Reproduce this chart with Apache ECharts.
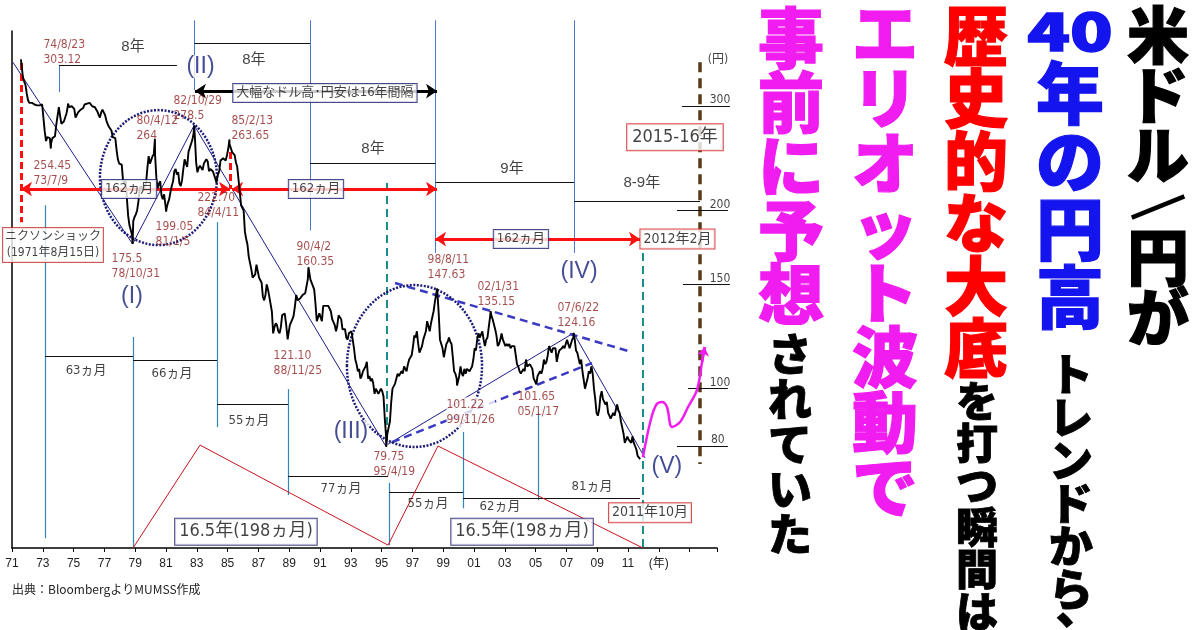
<!DOCTYPE html>
<html><head><meta charset="utf-8">
<script src="https://cdn.jsdelivr.net/npm/echarts@6/dist/echarts.min.js"></script>
<style>html,body{margin:0;padding:0;background:#fff}#c{width:1200px;height:630px}</style>
</head><body><div id="c"></div>
<script>
// ================= DATA =================
const X0 = 1971;
// USD/JPY monthly levels, Sep 1971 - Dec 1979
const jpy1970s = [
 336,330,326,315,
 307,304,303,304,304,302,301,301,301,301,302,302,
 302,272,262,266,265,265,260,265,265,267,279,280,
 299,289,280,279,283,284,292,300,299,300,300,300,
 297,287,286,293,292,296,297,298,302,302,303,305,
 304,302,300,299,299,298,294,290,287,293,296,293,
 290,284,280,277,277,273,266,267,265,253,244,240,
 241,239,225,222,225,210,196,189,189,182,192,195,
 197,200,207,218,220,218,216,220,223,236,247,240
];
// Jan 1980 - Dec 1989
const jpy1980s = [
 239,247,249,248,227,218,222,224,212,209,213,205,
 202,206,209,215,220,224,233,235,230,232,222,220,
 225,235,244,240,237,251,255,259,263,270,266,241,
 232,236,238,237,234,240,240,244,242,233,235,234,
 233,233,226,225,230,233,243,242,245,246,243,248,
 254,259,257,251,251,248,241,237,236,215,204,203,
 200,184,179,175,167,167,159,154,154,156,162,162,
 154,153,151,143,141,144,150,147,143,143,135,124,
 127,129,128,125,124,127,133,133,134,129,123,124,
 128,128,131,133,138,144,141,142,142,142,144,143
];
// Jan 1990 - Dec 1999
const jpy1990s = [
 145,146,153,158,153,154,149,147,139,130,129,134,
 134,130,138,137,138,139,138,137,135,131,130,128,
 125,128,133,133,131,126,126,126,122,121,124,124,
 125,121,117,112,110,107,108,104,105,107,108,109,
 111,104,105,103,104,102,98,100,99,98,98,100,
 99,97,89,83,84,84,88,95,100,101,102,102,
 106,105,106,107,106,109,109,107,110,112,112,114,
 118,123,122,125,119,115,115,118,121,121,125,130,
 129,125,129,132,135,140,140,145,134,121,121,117,
 113,116,119,120,122,120,119,113,107,106,104,102
];
// Jan 2000 - Oct 2011
const jpy2000s = [
 105,109,106,105,108,106,108,108,107,108,109,112,
 117,116,121,124,122,122,125,121,118,121,122,127,
 132,133,131,130,126,123,118,119,121,124,121,121,
 118,119,118,119,117,118,118,118,114,110,109,107,
 106,106,108,107,112,109,109,110,110,108,104,103,
 103,105,105,107,106,108,112,110,111,114,118,118,
 115,117,117,117,111,114,116,116,117,118,117,117,
 121,121,117,119,121,122,121,116,115,115,110,112,
 107,107,100,102,104,107,106,109,106,100,96,91,
 90,92,97,99,96,96,94,95,91,90,89,90,
 91,90,90,94,92,91,88,86,84,81,82,83,
 82,82,81,83,81,80,79,77,77,76
];
// labelled turning points [year, yen]
const turningPoints = [
 [1971.58,360],[1973.52,254.45],[1974.64,303.12],[1978.83,175.5],[1980.28,264],
 [1981.01,199.05],[1982.83,278.5],[1984.28,222.7],[1985.12,263.65],[1988.9,121.1],
 [1990.25,160.35],[1995.3,79.75],[1998.61,147.63],[1999.9,101.22],[2002.08,135.15],
 [2005.05,101.65],[2007.47,124.16]
];
// turning point labels [year, yen, text]
const pointLabels = [
 [1973.01,370,'74/8/23\n303.12'],[1972.36,230.8,'254.45\n73/7/9'],[1977.43,161.1,'175.5\n78/10/31'],
 [1979.05,275.5,'80/4/12\n264'],[1981.45,297.2,'82/10/29\n278.5'],[1980.29,182.1,'199.05\n81/1/5'],
 [1983.01,203.9,'222.70\n84/4/11'],[1985.22,275.5,'85/2/13\n263.65'],[1989.44,168.8,'90/4/2\n160.35'],
 [1987.95,110.3,'121.10\n88/11/25'],[1997.95,160.2,'98/8/11\n147.63'],[2001.19,144.2,'02/1/31\n135.15'],
 [2006.39,132.9,'07/6/22\n124.16'],[2003.79,94.0,'101.65\n05/1/17'],[1994.44,74.4,'79.75\n95/4/19']
];
const pointLabelsBoxed = [[1999.18,91.1,'101.22\n99/11/26']];
const waveLabels = [[1978.79,142.8,'(I)'],[1983.24,350,'(II)'],[1993.01,84.5,'(III)'],[2007.82,157.4,'(IV)'],[2013.53,73.7,'(V)']];
// cycle dividers [year, yenTop, yenBottom]
const topDividers = [[1982.85,419,319.5],[1990.35,419,185],[1998.5,419,169.5],[2007.5,419,169.5],[1974.05,352,317]];
const bottomDividers = [[1973.14,204,55.9],[1978.86,122.3,53.8],[1984.31,191.1,86.1],[1988.92,99.8,66.1],[1995.48,69.3,54.4],[2000.29,84.5,62.8],[2005.16,90.9,64.8]];
// spans [yearFrom, yearTo, yen]
const yearSpans = [[1974.05,1981.71,352],[1982.85,1990.35,383.6],[1990.35,1998.5,240.5],[1998.5,2007.5,223.4],[2007.5,2015.68,207.5]];
const yearSpanLabels = [[1978.86,377.6,'8年'],[1986.71,359,'8年'],[1994.44,254,'8年'],[2003.47,235,'9年'],[2011.9,222.5,'8-9年']];
const monthSpans = [[1973.14,1978.86,113.5],[1978.86,1984.31,111.8],[1984.31,1988.92,94.2],[1988.92,1995.42,71.2],[1995.48,2000.29,66.9],[2000.29,2011.78,65.4]];
const monthSpanLabels = [[1975.81,107.1,'63ヵ月'],[1981.39,105.9,'66ヵ月'],[1986.39,88.2,'55ヵ月'],[1992.36,67.7,'77ヵ月'],[1998.01,63.9,'55ヵ月'],[2002.69,63.1,'62ヵ月'],[2008.66,68.2,'81ヵ月']];
// 16.5-year cycle zigzag [year, yen]
const cycleZigzag = [[1978.86,53.8],[1983.21,80.3],[1995.42,54.4],[1998.66,80.0],[2011.97,53.8]];
// trend lines [[year,yen],[year,yen]]
const trendLines = [[[1971.06,356],[1978.83,175.5]],[[1978.83,175.5],[1982.83,278.5]],[[1982.83,278.5],[1995.3,79.75]],[[1995.4,80.5],[2007.47,124.16]],[[2007.47,124.16],[2012.1,76.4]]];
const channelLines = [[[1995.87,150.8],[2011.06,115.7]],[[1995.68,81.2],[2008.66,110.5]]];
// 162-month arrows [yearFrom, yearTo, yen]
const cycleArrows = [[1971.58,1985.16,217.4],[1985.29,1998.6,217.4],[1998.47,2011.78,178.9]];
const redDashed = [[1971.58,355,191.1],[1985.16,251,217.4]];
const tealDashed = [[1995.35,222.5,80.9],[2011.97,169.5,53.8]];
const sixteenYearArrow = [[1982.88,1998.6,318.2]];
const forecastLine = [[2015.68,356.1,74.6]];
// forecast path [year, yen]
const forecastPath = [[2011.97,76.6],[2012.43,87.5],[2012.82,93.8],[2013.21,94.9],[2013.53,93.1],[2013.86,86.1],[2014.38,87.8],[2014.9,93.1],[2015.48,99.5],[2015.81,110.9],[2015.98,117.6]];
// right-hand yen scale [yen, yearFrom, yearTo]
const yenScale = [[300,2014.51,2017.62],[200,2014.18,2017.49],[150,2014.57,2017.62],[100,2014.9,2017.49],[80,2014.18,2017.49]];
const yenScaleLabels = [[2016.27,300,'300'],[2016.27,200,'200'],[2016.27,150,'150'],[2016.27,100,'100'],[2016.35,80,'80'],[2016.15,350.7,'(円)']];
// boxed notes [year, yen, text]
const navyBoxes = [[1978.6,217.4,'162ヵ月'],[1990.74,217.4,'162ヵ月'],[2004.05,178.9,'162ヵ月'],[1991.32,315.8,'大幅なドル高･円安は16年間隔']];
const redBoxes = [[2014.21,178.9,'2012年2月'],[2012.43,61.7,'2011年10月']];
const nixonBox = [[1973.66,174.8,'ニクソンショック\n(1971年8月15日)']];
const bigRedBoxes = [[2014.05,266,'2015-16年']];
const bigNavyBoxes = [[1986.19,57.3,'16.5年(198ヵ月)'],[2004.12,57.3,'16.5年(198ヵ月)']];
// circled zones [yearLeft, yearRight, yenTop, yenBottom]
const circles = [[1976.71,1984.31,295.5,174.8],[1992.75,2001.52,149.6,79.7]];

// ================= BUILD =================
const P = (yr, v) => [yr - X0, v];
const monthly = (vals, y0, m0) => vals.map((v, i) => [y0 + (m0 - 1 + i + 0.5) / 12, v]);
const priceData = [].concat(monthly(jpy1970s,1971,9), monthly(jpy1980s,1980,1), monthly(jpy1990s,1990,1), monthly(jpy2000s,2000,1), turningPoints)
  .sort((a, b) => a[0] - b[0]).map(d => P(d[0], d[1]));

const vSeg = arr => arr.map(([x, a, b]) => ({coords: [P(x, a), P(x, b)]}));
const hSeg = arr => arr.map(([x1, x2, v]) => ({coords: [P(x1, v), P(x2, v)]}));
const pairSeg = arr => arr.map(([a, b]) => ({coords: [P(a[0], a[1]), P(b[0], b[1])]}));
const linesSeries = (data, style, extra) => Object.assign({
  type: 'lines', coordinateSystem: 'cartesian2d', clip: false, silent: true, polyline: false,
  symbol: ['none', 'none'], lineStyle: Object.assign({opacity: 1, curveness: 0}, style), data: data, z: 2,
  animation: false
}, extra || {});

const NARROW = "'Liberation Sans Narrow','DejaVu Sans Condensed','Liberation Sans','Noto Sans CJK JP',sans-serif";
const SANS = "'Liberation Sans','Noto Sans CJK JP',sans-serif";
const textSeries = (items, label, z) => ({
  type: 'scatter', clip: false, silent: true, symbolSize: 1, animation: false,
  itemStyle: {color: 'rgba(0,0,0,0)'}, emphasis: {disabled: true}, z: z || 10,
  data: items.map(([x, v, t]) => ({name: t, value: P(x, v)})),
  label: Object.assign({show: true, formatter: '{b}'}, label)
});

const zig = cycleZigzag.slice(1).map((p, i) => [cycleZigzag[i], p]);
const RED_TXT = '#8e1f1f';

const series = [
  linesSeries(vSeg(topDividers), {color: '#4a78d0', width: 1}),
  linesSeries(vSeg(bottomDividers), {color: '#2f86b8', width: 1.2}),
  linesSeries(hSeg(yearSpans), {color: '#111', width: 1}),
  linesSeries(hSeg(monthSpans), {color: '#111', width: 1}),
  linesSeries(pairSeg(zig), {color: '#c8141e', width: 1}),
  linesSeries(pairSeg(trendLines), {color: '#1c1c8c', width: 1}),
  linesSeries(pairSeg(channelLines), {color: '#3a3ac4', width: 2.5, type: [8, 5]}),
  linesSeries(vSeg(redDashed), {color: '#ff1010', width: 3, type: [7, 4]}),
  linesSeries(vSeg(tealDashed), {color: '#1a8c8c', width: 2, type: [8, 5]}),
  linesSeries(vSeg(forecastLine), {color: '#5a3a18', width: 3.5, type: [10, 6]}),
  linesSeries(yenScale.map(([v, a, b]) => ({coords: [P(a, v), P(b, v)]})), {color: '#111', width: 1}),
  linesSeries(hSeg(cycleArrows), {color: '#ff1010', width: 3}, {symbol: ['arrow', 'arrow'], symbolSize: 11, z: 4}),
  linesSeries(hSeg(sixteenYearArrow), {color: '#000', width: 3}, {symbol: ['arrow', 'arrow'], symbolSize: 11, z: 4}),
  {
    type: 'line', data: priceData, showSymbol: false, clip: false, silent: true, animation: false,
    lineStyle: {color: '#000', width: 1.9}, z: 5
  },
  {
    type: 'line', data: forecastPath.map(d => P(d[0], d[1])), smooth: 0.35, showSymbol: false, clip: false,
    silent: true, animation: false, lineStyle: {color: '#f01cf0', width: 2.5}, z: 5
  },
  linesSeries(pairSeg([[forecastPath[forecastPath.length - 2], forecastPath[forecastPath.length - 1]]]),
    {color: '#f01cf0', width: 2.5}, {symbol: ['none', 'arrow'], symbolSize: 9, z: 5}),
  textSeries(pointLabels, {position: 'right', distance: 0, color: RED_TXT, fontSize: 12, lineHeight: 15, fontFamily: NARROW, align: 'left'}),
  textSeries(pointLabelsBoxed, {position: 'right', distance: 0, color: RED_TXT, fontSize: 12, lineHeight: 15, fontFamily: NARROW, align: 'left', backgroundColor: '#fff'}, 9),
  textSeries(waveLabels, {position: 'inside', color: '#16217a', fontSize: 23, fontFamily: SANS, backgroundColor: '#fff', padding: [0, 1]}),
  textSeries(yearSpanLabels, {position: 'inside', color: '#111', fontSize: 15, fontFamily: SANS}),
  textSeries(monthSpanLabels, {position: 'inside', color: '#111', fontSize: 13, fontFamily: NARROW}),
  textSeries(yenScaleLabels, {position: 'right', distance: 0, color: '#111', fontSize: 12, fontFamily: NARROW, offset: [0, -6]}),
  textSeries(navyBoxes, {position: 'inside', color: '#111', fontSize: 13, fontFamily: NARROW, backgroundColor: '#fff', borderColor: '#1c1c6c', borderWidth: 1, padding: [3, 3, 2, 3]}, 12),
  textSeries(redBoxes, {position: 'inside', color: '#111', fontSize: 14, fontFamily: NARROW, backgroundColor: '#fff', borderColor: '#d02020', borderWidth: 1, padding: [3, 3, 2, 3]}, 12),
  textSeries(nixonBox, {position: 'inside', color: '#111', fontSize: 12, lineHeight: 16, fontFamily: NARROW, backgroundColor: '#fff', borderColor: '#c03030', borderWidth: 1, padding: [1, 2]}, 12),
  textSeries(bigRedBoxes, {position: 'inside', color: '#111', fontSize: 18, fontFamily: NARROW, backgroundColor: '#fff', borderColor: '#d02020', borderWidth: 1, padding: [4, 5]}, 12),
  textSeries(bigNavyBoxes, {position: 'inside', color: '#111', fontSize: 18, fontFamily: NARROW, backgroundColor: '#fff', borderColor: '#1c1c6c', borderWidth: 1, padding: [4, 4]}, 12)
];

const HEAVY = "'Noto Sans CJK JP','Noto Sans CJK SC',sans-serif";
function vcol(x, y, text, size, lh, color, sw) {
  return {type: 'text', x: x, y: y, z: 50, silent: true, style: {
    text: text.split('').join('\n'), fontSize: size, lineHeight: lh, fontWeight: 900, fontFamily: HEAVY,
    fill: color, stroke: color, lineWidth: sw || 1.2, align: 'center', textAlign: 'center', verticalAlign: 'top', textVerticalAlign: 'top'}};
}
const titleGraphics = [
  vcol(1158, 5, '米ドル', 62, 60, '#000'),
  {type: 'text', x: 1158, y: 207, rotation: -0.4, z: 50, silent: true, style: {text: '／', fontSize: 42, fontWeight: 900, fontFamily: HEAVY, fill: '#000', stroke: '#000', lineWidth: 2.5, align: 'center', textAlign: 'center', verticalAlign: 'middle', textVerticalAlign: 'middle'}},
  vcol(1158, 227, '円が', 62, 60, '#000'),
  {type: 'text', x: 1070, y: 5, scaleX: 1.35, z: 50, silent: true, style: {text: '40', fontSize: 52, fontWeight: 900, fontFamily: HEAVY, fill: '#1414ee', stroke: '#1414ee', lineWidth: 1.5, align: 'center', textAlign: 'center', verticalAlign: 'top', textVerticalAlign: 'top'}},
  vcol(1070, 59, '年の円高', 68, 68, '#1414ee'),
  vcol(1071, 353, 'トレンドから', 44, 43, '#000', 0.8),
  {type: 'text', x: 1078, y: 585, z: 50, silent: true, style: {text: '、', fontSize: 44, fontWeight: 900, fontFamily: HEAVY, fill: '#000', stroke: '#000', lineWidth: 1, align: 'center', textAlign: 'center', verticalAlign: 'top', textVerticalAlign: 'top'}},
  vcol(976, 4, '歴史的な大底', 64, 62.5, '#ff0000'),
  vcol(977, 380, 'を打つ瞬間は', 42, 42, '#000', 0.8),
  vcol(885, 1, 'エリオット波動で', 66, 64.8, '#f01cf0'),
  vcol(791, 6, '事前に予想', 66, 64, '#f01cf0'),
  vcol(790, 332, 'されていた', 44, 45, '#000', 0.8),
  {type: 'text', x: 12, y: 583, silent: true, style: {text: '出典：BloombergよりMUMSS作成', fontSize: 12, fontFamily: "'Noto Sans CJK JP',sans-serif", fill: '#222', align: 'left', textAlign: 'left', verticalAlign: 'top', textVerticalAlign: 'top'}}
];

const chart = echarts.init(document.getElementById('c'), null, {renderer: 'canvas'});
chart.setOption({
  backgroundColor: '#fff',
  animation: false,
  grid: {left: 12, top: 31, width: 705, height: 517, containLabel: false},
  xAxis: {
    type: 'value', min: 0, max: 45.78, interval: 2,
    axisLine: {show: true, lineStyle: {color: '#000', width: 1.5}},
    axisTick: {show: true, length: 4, lineStyle: {color: '#000'}},
    splitLine: {show: false},
    axisLabel: {
      margin: 10, fontSize: 12, color: '#222', fontFamily: SANS,
      formatter: function (v) {
        if (Math.abs(v - Math.round(v)) > 1e-6 || Math.round(v) % 2 !== 0) return '';
        const y = X0 + Math.round(v);
        if (y > 2011) return y === 2013 ? '(年)' : '';
        return String(y % 100).padStart(2, '0');
      }
    }
  },
  yAxis: {
    type: 'log', logBase: 10, min: 53.8, max: 402,
    axisLine: {show: true, lineStyle: {color: '#000', width: 1.5}},
    axisTick: {show: false}, axisLabel: {show: false}, splitLine: {show: false}
  },
  series: series,
  graphic: titleGraphics
});

// dotted ellipses around the turning zones, placed through the chart's own scales
const ellipses = circles.map(([xa, xb, vt, vb]) => {
  const p1 = chart.convertToPixel({xAxisIndex: 0, yAxisIndex: 0}, P(xa, vt));
  const p2 = chart.convertToPixel({xAxisIndex: 0, yAxisIndex: 0}, P(xb, vb));
  return {type: 'ellipse', z: 3, silent: true,
    shape: {cx: (p1[0] + p2[0]) / 2, cy: (p1[1] + p2[1]) / 2, rx: Math.abs(p2[0] - p1[0]) / 2, ry: Math.abs(p2[1] - p1[1]) / 2},
    style: {fill: null, stroke: '#1c1c78', lineWidth: 2.5, lineDash: [2, 1.5]}};
});
chart.setOption({graphic: titleGraphics.concat(ellipses)});
</script>
</body></html>
